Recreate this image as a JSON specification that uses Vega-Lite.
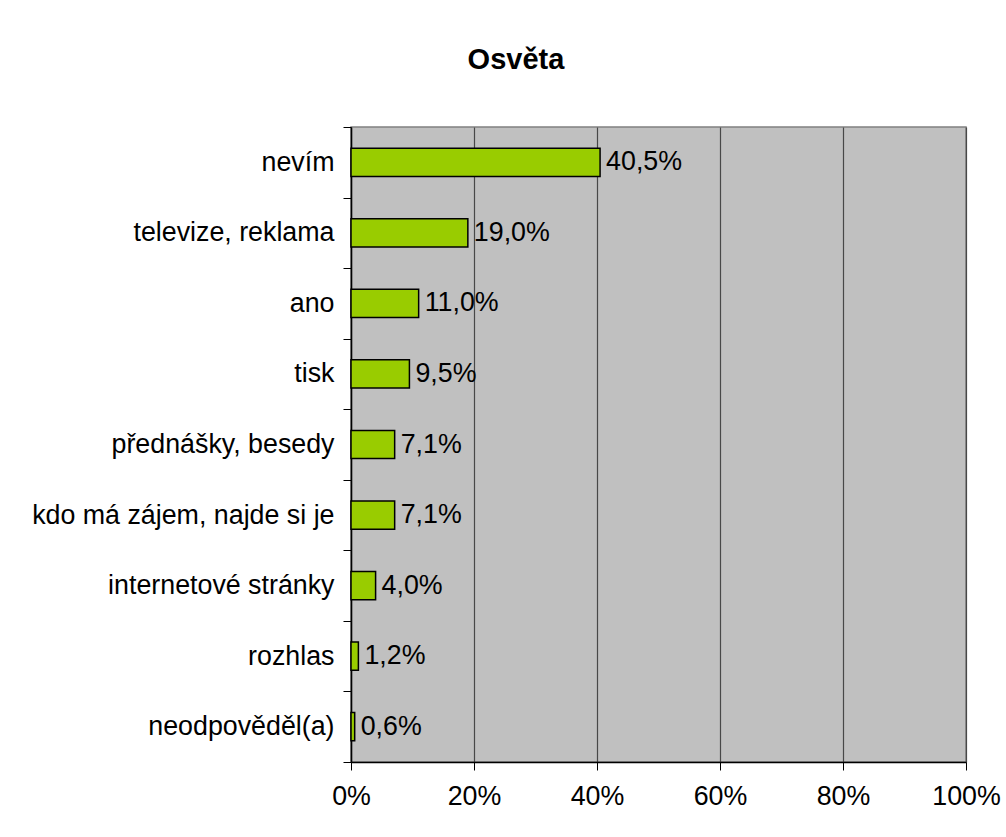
{
  "$schema": "https://vega.github.io/schema/vega-lite/v6.json",
  "width": 615,
  "height": 635,
  "autosize": {"type": "none"},
  "padding": {"left": 351, "top": 127, "right": 40, "bottom": 75},
  "background": "white",
  "config": {
    "locale": {
      "number": {"decimal": ",", "thousands": " ", "grouping": [3], "currency": ["", " Kč"]}
    },
    "font": "Liberation Sans",
    "view": {"fill": "#C0C0C0", "stroke": "#808080", "strokeWidth": 1.5}
  },
  "title": {
    "text": "Osvěta",
    "font": "Liberation Sans",
    "fontSize": 29,
    "fontWeight": "bold",
    "color": "black",
    "anchor": "middle",
    "frame": "bounds",
    "baseline": "alphabetic",
    "offset": 16
  },
  "data": {
    "values": [
      {"odpoved": "nevím", "podil": 0.405},
      {"odpoved": "televize, reklama", "podil": 0.19},
      {"odpoved": "ano", "podil": 0.11},
      {"odpoved": "tisk", "podil": 0.095},
      {"odpoved": "přednášky, besedy", "podil": 0.071},
      {"odpoved": "kdo má zájem, najde si je", "podil": 0.071},
      {"odpoved": "internetové stránky", "podil": 0.04},
      {"odpoved": "rozhlas", "podil": 0.012},
      {"odpoved": "neodpověděl(a)", "podil": 0.006}
    ]
  },
  "encoding": {
    "y": {
      "field": "odpoved",
      "type": "nominal",
      "sort": null,
      "scale": {"paddingInner": 0, "paddingOuter": 0},
      "axis": {
        "title": null,
        "tickBand": "extent",
        "tickSize": 8,
        "tickColor": "black",
        "tickWidth": 1,
        "domainColor": "black",
        "domainWidth": 1.5,
        "labelFontSize": 26.8,
        "labelColor": "black",
        "labelPadding": 9,
        "labelLimit": 500,
        "labelFont": "Liberation Sans",
        "grid": false
      }
    },
    "x": {
      "field": "podil",
      "type": "quantitative",
      "scale": {"domain": [0, 1], "nice": false},
      "axis": {
        "title": null,
        "values": [0, 0.2, 0.4, 0.6, 0.8, 1],
        "format": ".0%",
        "grid": true,
        "gridColor": "#484848",
        "gridWidth": 1.2,
        "gridOpacity": 1,
        "tickSize": 8,
        "tickColor": "black",
        "domainColor": "black",
        "domainWidth": 1.5,
        "labelFontSize": 26.8,
        "labelColor": "black",
        "labelPadding": 13,
        "labelFlush": false,
        "labelFont": "Liberation Sans"
      }
    }
  },
  "layer": [
    {
      "mark": {
        "type": "bar",
        "height": {"band": 0.4},
        "fill": "#99CC00",
        "stroke": "black",
        "strokeWidth": 1.5
      }
    },
    {
      "mark": {
        "type": "text",
        "align": "left",
        "baseline": "middle",
        "dx": 6,
        "fontSize": 26.8,
        "font": "Liberation Sans",
        "color": "black"
      },
      "encoding": {
        "text": {"field": "podil", "type": "quantitative", "format": ".1%"}
      }
    }
  ]
}
